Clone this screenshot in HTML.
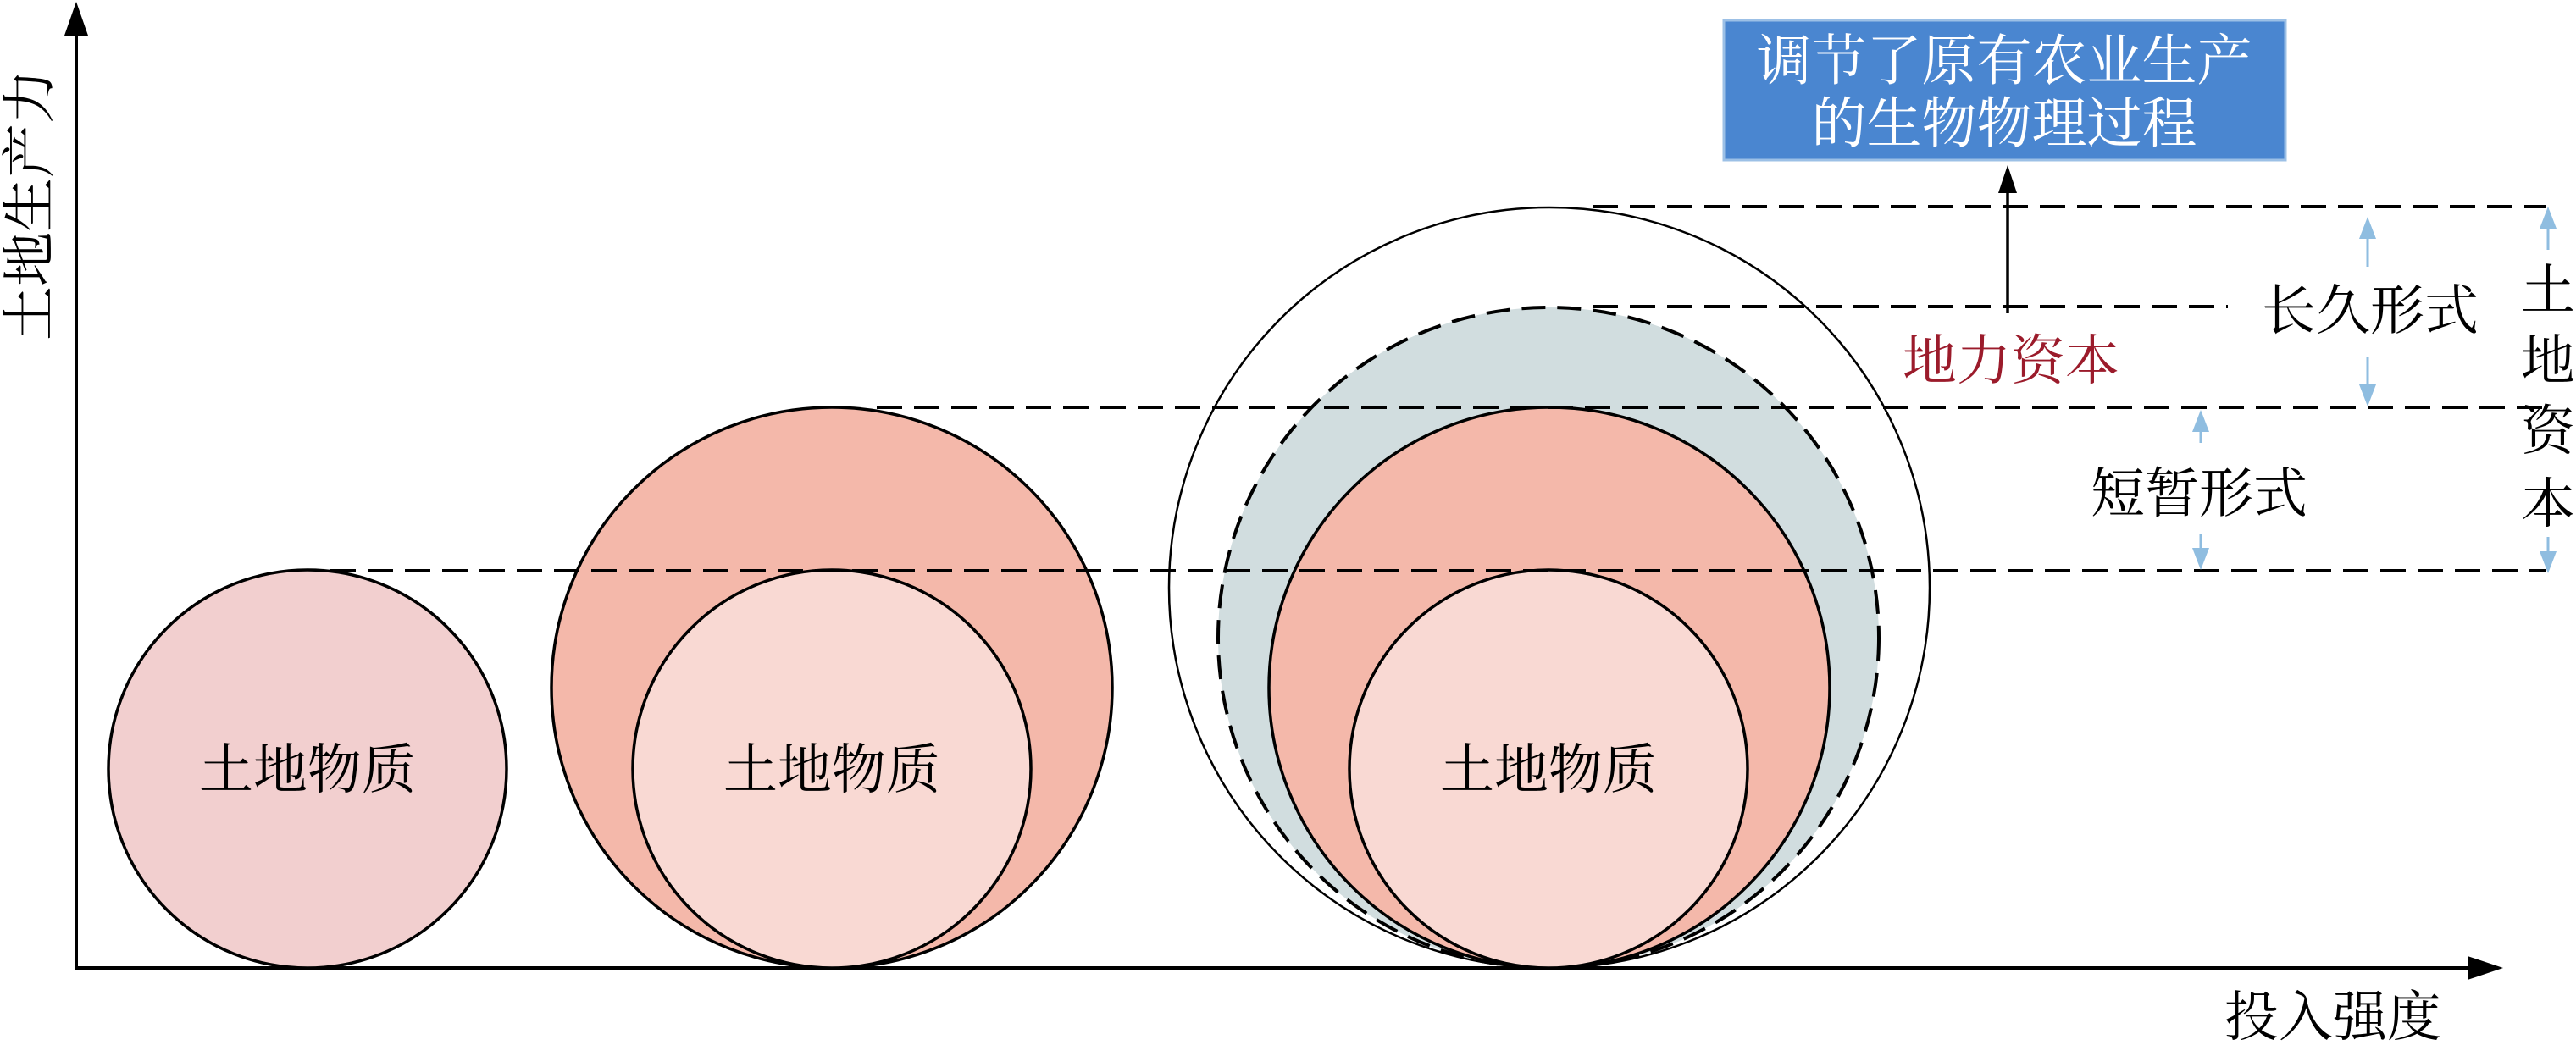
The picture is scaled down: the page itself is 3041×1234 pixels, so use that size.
<!DOCTYPE html>
<html><head><meta charset="utf-8"><style>html,body{margin:0;padding:0;background:#fff}svg{display:block}</style></head>
<body>
<svg width="3041" height="1234" viewBox="0 0 3041 1234" xmlns="http://www.w3.org/2000/svg" font-family="'Liberation Serif','Noto Serif CJK SC',serif">
<!-- axes -->
<line x1="90" y1="1143" x2="90" y2="40" stroke="#000" stroke-width="4"/>
<polygon points="90,2 76,42 104,42" fill="#000"/>
<line x1="88" y1="1143" x2="2915" y2="1143" stroke="#000" stroke-width="4"/>
<polygon points="2955,1143 2913,1129 2913,1157" fill="#000"/>

<!-- circle 1 -->
<circle cx="363" cy="908" r="235" fill="#f2cfcf" stroke="#000" stroke-width="3.5"/>
<!-- circle 2 -->
<circle cx="982" cy="812" r="331" fill="#f4b8aa" stroke="#000" stroke-width="3.5"/>
<circle cx="982" cy="908" r="235" fill="#f9d9d3" stroke="#000" stroke-width="3.5"/>
<!-- circle 3 -->
<circle cx="1829" cy="694" r="449" fill="#fff" stroke="#000" stroke-width="2.5"/>
<circle cx="1828" cy="753" r="390" fill="#d1dddf" stroke="#000" stroke-width="4" stroke-dasharray="28 14"/>
<circle cx="1829" cy="812" r="331" fill="#f4b8aa" stroke="#000" stroke-width="3.5"/>
<circle cx="1828" cy="908" r="235" fill="#f9d9d3" stroke="#000" stroke-width="3.5"/>

<!-- dashed lines -->
<g stroke="#000" stroke-width="4" stroke-dasharray="30 14" fill="none">
<line x1="390" y1="674" x2="3006" y2="674"/>
<line x1="1035" y1="481" x2="3006" y2="481"/>
<line x1="1880" y1="362" x2="2630" y2="362"/>
<line x1="1880" y1="244" x2="3006" y2="244"/>
</g>

<!-- black arrow -->
<line x1="2370" y1="370" x2="2370" y2="215" stroke="#000" stroke-width="3.5"/>
<polygon points="2370,195 2359,228 2381,228" fill="#000"/>

<!-- blue box -->
<rect x="2035" y="24" width="663" height="165" fill="#4a86d0" stroke="#9cc0e6" stroke-width="3"/>
<text x="2366" y="94" font-size="65" fill="#fff" text-anchor="middle">调节了原有农业生产</text>
<text x="2366" y="168" font-size="65" fill="#fff" text-anchor="middle">的生物物理过程</text>

<!-- light blue arrows -->
<g stroke="#8fbde0" stroke-width="3" fill="#8fbde0">
<line x1="2795" y1="315" x2="2795" y2="270"/><polygon points="2795,256 2785,282 2805,282" stroke="none"/>
<line x1="2795" y1="421" x2="2795" y2="466"/><polygon points="2795,480 2785,454 2805,454" stroke="none"/>
<line x1="2598" y1="523" x2="2598" y2="498"/><polygon points="2598,484 2588,510 2608,510" stroke="none"/>
<line x1="2598" y1="630" x2="2598" y2="660"/><polygon points="2598,673 2588,647 2608,647" stroke="none"/>
<line x1="3008" y1="295" x2="3008" y2="258"/><polygon points="3008,244 2998,270 3018,270" stroke="none"/>
<line x1="3008" y1="634" x2="3008" y2="663"/><polygon points="3008,677 2998,651 3018,651" stroke="none"/>
</g>

<!-- labels -->
<g font-size="64" fill="#000" text-anchor="middle">
<text x="363" y="931">土地物质</text>
<text x="982" y="931">土地物质</text>
<text x="1828" y="931">土地物质</text>
<text x="2374" y="448" fill="#9b1b2b">地力资本</text>
<text x="2798" y="389">长久形式</text>
<text x="2596" y="605">短暂形式</text>
<text x="3008" y="365">土</text>
<text x="3008" y="448">地</text>
<text x="3008" y="531">资</text>
<text x="3008" y="617">本</text>
<text x="2754" y="1223">投入强度</text>
<text transform="translate(57,242) rotate(-90)">土地生产力</text>
</g>
</svg>
</body></html>
